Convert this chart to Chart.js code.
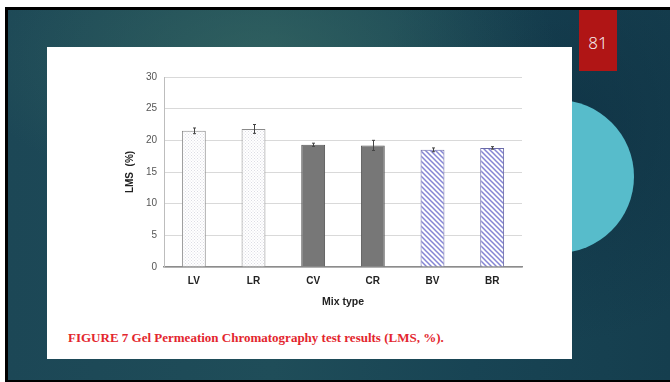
<!DOCTYPE html>
<html>
<head>
<meta charset="utf-8">
<script src="https://cdn.jsdelivr.net/npm/chart.js@4.4.0/dist/chart.umd.min.js"></script>
<style>
  html, body { margin: 0; padding: 0; }
  body { width: 670px; height: 382px; position: relative; overflow: hidden; background: #fff; }
  #slide { position: absolute; left: 5px; top: 7px; width: 665px; height: 375px; box-sizing: border-box;
    border-left: 3px solid #000; border-top: 3px solid #000; border-bottom: 2px solid #000;
    background:
      radial-gradient(ellipse 45% 40% at 38% 12%, rgba(60,110,100,0.55) 0%, rgba(60,110,100,0) 100%),
      radial-gradient(ellipse 30% 60% at 85% 30%, rgba(10,40,60,0.45) 0%, rgba(10,40,60,0) 100%),
      linear-gradient(90deg, #1c4756 0%, #1f4d59 40%, #184454 70%, #153e4e 100%);
  }
  #circle { position: absolute; left: 481px; top: 100px; width: 153px; height: 153px; border-radius: 50%; background: #57bccb; }
  #white { position: absolute; left: 47px; top: 47px; width: 525px; height: 312px; background: #fff; }
  #badge { position: absolute; left: 579px; top: 10px; width: 38px; height: 61px; background: #b01515; }
  #badge span { position: absolute; left: 0; width: 38px; top: 33px; text-align: center; color: #f4e8e8;
    font-family: "Noto Sans", "DejaVu Sans", sans-serif; font-size: 17px; line-height: 20px; transform: translateY(-50%); font-weight: 300; }
  #chartBox { position: absolute; left: 47px; top: 47px; width: 525px; height: 268px; }
  #caption { position: absolute; left: 68px; top: 330px; color: #e3262e; font-family: "Liberation Serif", "Times New Roman", serif;
    font-weight: bold; font-size: 13px; white-space: nowrap; }
</style>
</head>
<body>
<div id="slide"></div>
<div id="circle"></div>
<div id="white"></div>
<div id="badge"><span>81</span></div>
<div id="chartBox"><canvas id="c" width="525" height="268"></canvas></div>
<div id="caption">FIGURE 7 Gel Permeation Chromatography test results (LMS, %).</div>
<script>
const categories = ["LV", "LR", "CV", "CR", "BV", "BR"];
const lmsValues = [21.5, 21.8, 19.3, 19.2, 18.5, 18.8];
const lmsErrors = [0.45, 0.7, 0.25, 0.8, 0.3, 0.2];
const yTicks = [0, 5, 10, 15, 20, 25, 30];

function dotPattern() {
  const p = document.createElement('canvas');
  p.width = 3; p.height = 3;
  const g = p.getContext('2d');
  g.fillStyle = '#ffffff'; g.fillRect(0, 0, 3, 3);
  g.fillStyle = '#dcdce4'; g.fillRect(0, 0, 1, 1); g.fillRect(1.5, 1.5, 1, 1);
  return g.createPattern(p, 'repeat');
}
function hatchPattern() {
  const s = 5;
  const p = document.createElement('canvas');
  p.width = s; p.height = s;
  const g = p.getContext('2d');
  g.fillStyle = '#ffffff'; g.fillRect(0, 0, s, s);
  g.strokeStyle = '#8585d4'; g.lineWidth = 1.5;
  g.beginPath();
  g.moveTo(0, 0); g.lineTo(s, s);
  g.moveTo(-s, 0); g.lineTo(s, 2 * s);
  g.moveTo(0, -s); g.lineTo(2 * s, s);
  g.stroke();
  return g.createPattern(p, 'repeat');
}
const ctx = document.getElementById('c').getContext('2d');
const dots = dotPattern();
const hatch = hatchPattern();
const fills = [dots, dots, '#777777', '#777777', hatch, hatch];
const borders = ['#8a8a8a', '#8a8a8a', '#555555', '#555555', '#6a6aa8', '#6a6aa8'];

const errorBars = {
  id: 'errorBars',
  afterDatasetsDraw(chart) {
    const meta = chart.getDatasetMeta(0);
    const ys = chart.scales.y;
    const c = chart.ctx;
    c.save();
    c.strokeStyle = '#444';
    c.lineWidth = 1;
    meta.data.forEach((bar, i) => {
      const v = lmsValues[i], e = lmsErrors[i];
      const x = Math.round(bar.x) + 0.5;
      const t = ys.getPixelForValue(v + e), b = ys.getPixelForValue(v - e);
      c.beginPath();
      c.moveTo(x, t); c.lineTo(x, b);
      c.moveTo(x - 1.5, t); c.lineTo(x + 1.5, t);
      c.moveTo(x - 1.5, b); c.lineTo(x + 1.5, b);
      c.stroke();
    });
    c.restore();
  }
};

new Chart(ctx, {
  type: 'bar',
  data: {
    labels: categories,
    datasets: [{
      data: lmsValues,
      backgroundColor: fills,
      borderColor: borders,
      borderWidth: 1,
      barPercentage: 0.4,
      categoryPercentage: 1.0
    }]
  },
  options: {
    responsive: false,
    animation: false,
    devicePixelRatio: 1,
    layout: { padding: { left: 75, right: 50, top: 30, bottom: 0 } },
    plugins: { legend: { display: false }, tooltip: { enabled: false } },
    scales: {
      x: {
        afterFit(s) { s.height = 48; },
        grid: {
          drawTicks: false,
          color: (c) => c.index === categories.length ? '#c8c8c8' : 'rgba(0,0,0,0)',
          lineWidth: 1
        },
        border: { color: '#8c8c8c', width: 1.5 },
        ticks: { color: '#222', padding: 8, font: { family: 'Liberation Sans, Arial, sans-serif', size: 10, weight: 'bold' } },
        title: { display: true, text: 'Mix type', color: '#222', padding: { top: 0, bottom: 7 },
          font: { family: 'Liberation Sans, Arial, sans-serif', size: 10.5, weight: 'bold' } }
      },
      y: {
        min: 0, max: 30,
        afterFit(s) { s.width = 42; },
        afterBuildTicks(s) { s.ticks = yTicks.map(v => ({ value: v })); },
        grid: { color: '#d9d9d9', lineWidth: 1, drawTicks: false },
        border: { color: '#bdbdbd', width: 1 },
        ticks: { color: '#555', padding: 7, font: { family: 'Liberation Sans, Arial, sans-serif', size: 10 } },
        title: { display: true, text: 'LMS  (%)', color: '#222', padding: { top: 2, bottom: 0 },
          font: { family: 'Liberation Sans, Arial, sans-serif', size: 10, weight: 'bold' } }
      }
    }
  },
  plugins: [errorBars]
});
</script>
</body>
</html>
